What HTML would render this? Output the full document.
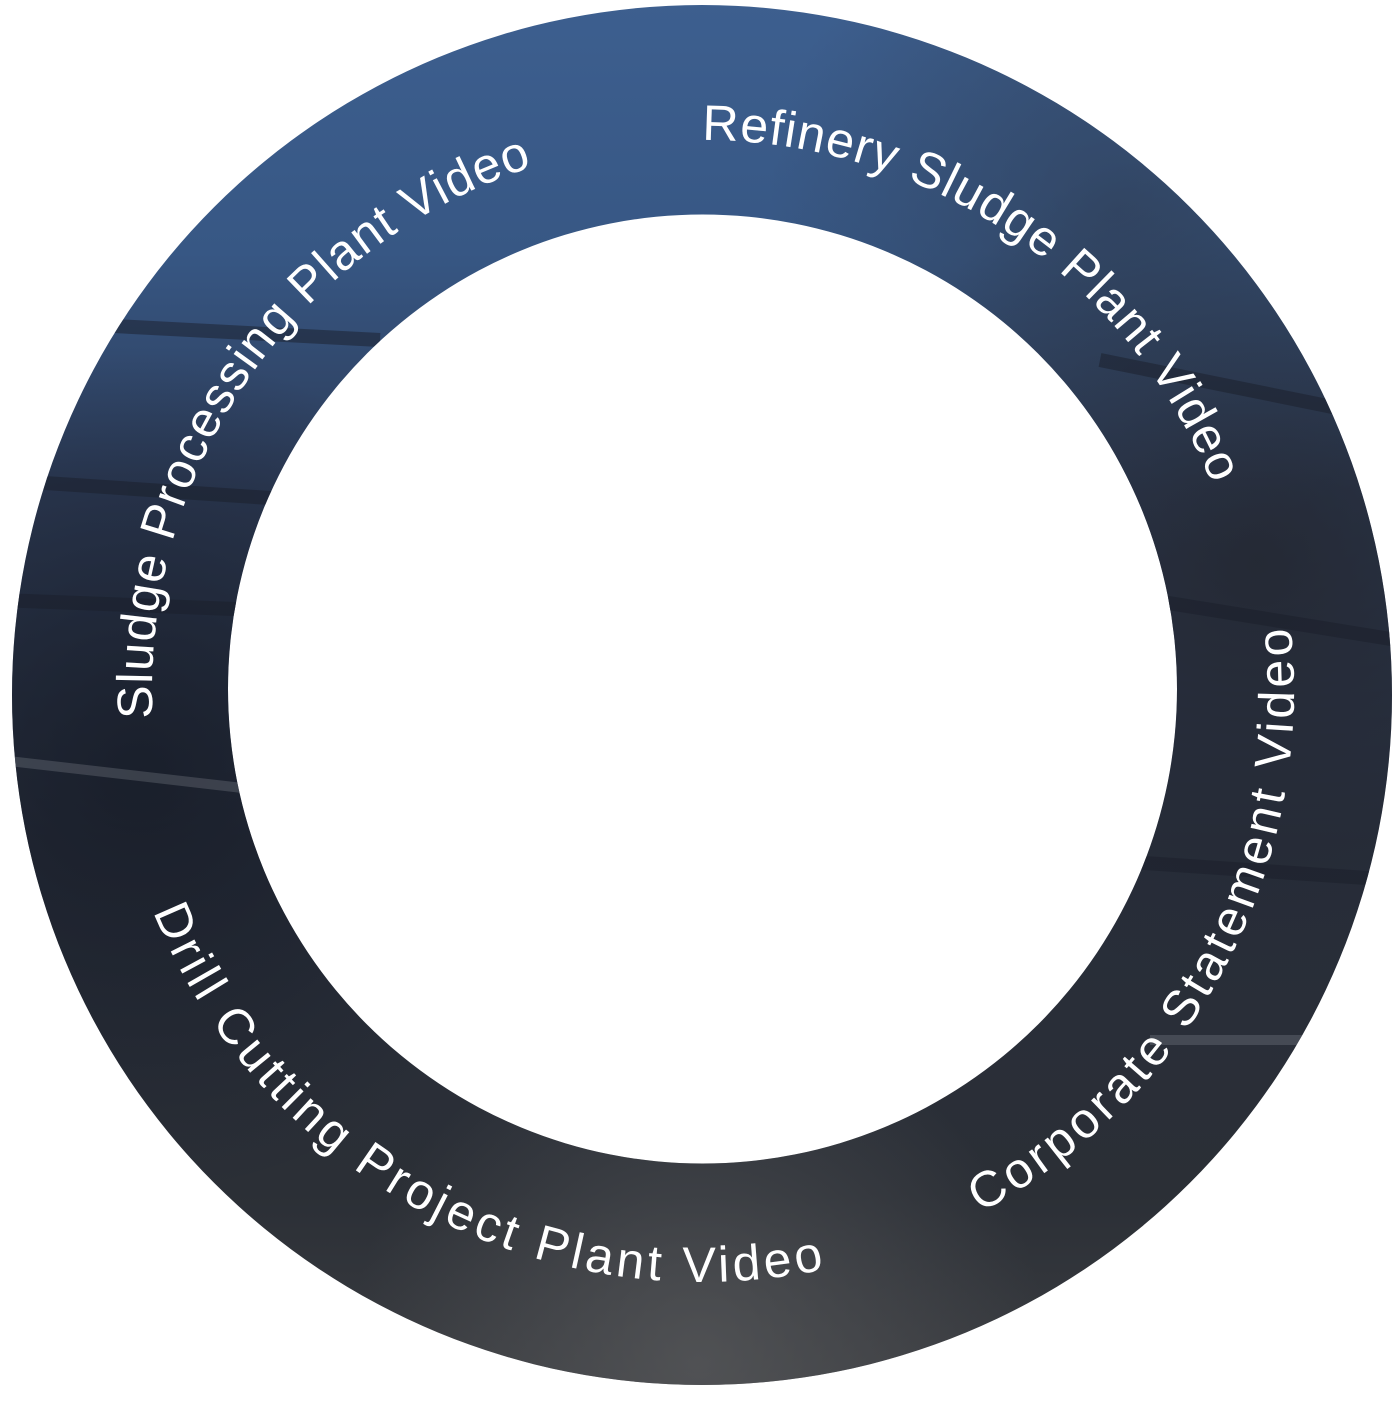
<!DOCTYPE html>
<html><head><meta charset="utf-8"><style>
html,body{margin:0;padding:0;background:#fff;width:1397px;height:1405px;overflow:hidden}
svg{display:block}
text{font-family:"Liberation Sans",sans-serif;font-size:50px;fill:#fff}
</style></head><body>
<svg width="1397" height="1405" viewBox="0 0 1397 1405">
<defs>
<linearGradient id="bg" x1="0" y1="0" x2="0" y2="1">
<stop offset="0" stop-color="#3d5f8f"/>
<stop offset="0.18" stop-color="#375784"/>
<stop offset="0.35" stop-color="#2c3a55"/>
<stop offset="0.6" stop-color="#272d3a"/>
<stop offset="0.85" stop-color="#2b2f36"/>
<stop offset="1" stop-color="#3c3e42"/>
</linearGradient>
<radialGradient id="d1" cx="0.1" cy="0.55" r="0.3"><stop offset="0" stop-color="#161b26" stop-opacity="0.8"/><stop offset="1" stop-color="#161b26" stop-opacity="0"/></radialGradient>
<radialGradient id="d2" cx="0.9" cy="0.4" r="0.3"><stop offset="0" stop-color="#23262e" stop-opacity="0.8"/><stop offset="1" stop-color="#23262e" stop-opacity="0"/></radialGradient>
<radialGradient id="d3" cx="0.5" cy="0.97" r="0.25"><stop offset="0" stop-color="#5a5b5d" stop-opacity="0.7"/><stop offset="1" stop-color="#5a5b5d" stop-opacity="0"/></radialGradient>
<radialGradient id="d4" cx="0.8" cy="0.15" r="0.25"><stop offset="0" stop-color="#2e3a4e" stop-opacity="0.6"/><stop offset="1" stop-color="#2e3a4e" stop-opacity="0"/></radialGradient>
<clipPath id="ring"><path fill-rule="evenodd" clip-rule="evenodd" d="M12,695 A690,690 0 1 0 1392,695 A690,690 0 1 0 12,695 Z M228,689 A474.5,474.5 0 1 0 1177,689 A474.5,474.5 0 1 0 228,689 Z"/></clipPath>
<path id="cw" d="M702,140 A550,550 0 0 1 702,1240 A550,550 0 0 1 702,140"/>
<path id="ccw" d="M702,98 A592,592 0 0 0 702,1282 A592,592 0 0 0 702,98"/>
</defs>
<g clip-path="url(#ring)">
<rect x="0" y="0" width="1397" height="1405" fill="url(#bg)"/>
<rect x="0" y="0" width="1397" height="1405" fill="url(#d1)"/>
<rect x="0" y="0" width="1397" height="1405" fill="url(#d2)"/>
<rect x="0" y="0" width="1397" height="1405" fill="url(#d4)"/>
<rect x="0" y="0" width="1397" height="1405" fill="url(#d3)"/>
<g stroke="#1a1f2a" stroke-width="14" opacity="0.5">
<line x1="0" y1="320" x2="380" y2="340"/><line x1="0" y1="480" x2="300" y2="500"/>
<line x1="0" y1="600" x2="260" y2="610"/><line x1="1100" y1="360" x2="1397" y2="420"/>
<line x1="1150" y1="600" x2="1397" y2="640"/><line x1="1100" y1="860" x2="1397" y2="880"/>
</g>
<g stroke="#9aa0a8" stroke-width="10" opacity="0.25">
<line x1="0" y1="760" x2="260" y2="790"/><line x1="1150" y1="1040" x2="1397" y2="1040"/>
</g>
</g>
<text><textPath href="#cw" startOffset="0" textLength="653" lengthAdjust="spacing">Refinery Sludge Plant Video</textPath></text>
<text><textPath href="#cw" startOffset="2563" textLength="720" lengthAdjust="spacing">Sludge Processing Plant Video</textPath></text>
<text><textPath href="#ccw" startOffset="2149" textLength="703" lengthAdjust="spacing">Corporate Statement Video</textPath></text>
<text><textPath href="#ccw" startOffset="1157" textLength="826" lengthAdjust="spacing">Drill Cutting Project Plant Video</textPath></text>
</svg>
</body></html>
